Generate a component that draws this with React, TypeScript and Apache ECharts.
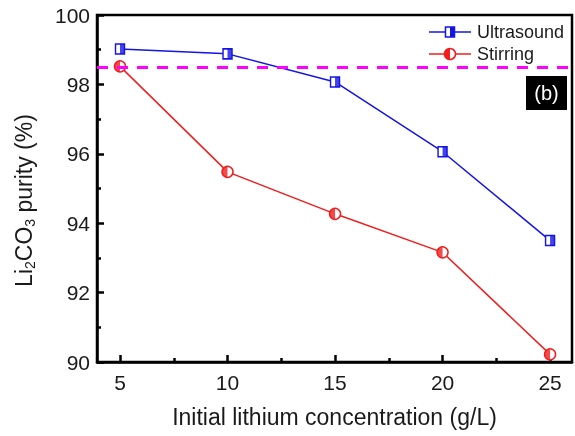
import React, { useEffect, useRef } from "react";
import * as echarts from "echarts";

// Initial lithium concentration (g/L)
const concentrations = [5, 10, 15, 20, 25];
// Li2CO3 purity (%) for each treatment
const ultrasound = [99.02, 98.88, 98.07, 96.06, 93.5];
const stirring = [98.52, 95.48, 94.27, 93.16, 90.22];
// Reference purity level (dashed line)
const purityStandard = 98.5;

const xMajorTicks = [5, 10, 15, 20, 25];
const xMinorTicks = [7.5, 12.5, 17.5, 22.5];

const BLUE = "#1414e6";
const RED = "#f01e1e";
const MAGENTA = "#ff00ff";
const FONT = "Liberation Sans, Arial, sans-serif";

const halfCircleLeft = "path://M1,0A1,1,0,0,0,1,2Z";

export default function App() {
  const ref = useRef<HTMLDivElement>(null);

  useEffect(() => {
    if (!ref.current) return;
    const chart = echarts.init(ref.current, null, { renderer: "svg" });

    const uData = concentrations.map((c, i) => [c, ultrasound[i]]);
    const sData = concentrations.map((c, i) => [c, stirring[i]]);

    const legendY1 = 32;
    const legendY2 = 54;
    const axisColor = "#000";

    chart.setOption({
      animation: false,
      grid: {
        left: 97,
        right: 3,
        top: 15,
        bottom: 74,
        show: true,
        borderColor: axisColor,
        borderWidth: 2.5,
      },
      xAxis: [
        {
          type: "value",
          min: 3.93,
          max: 26.02,
          name: "Initial lithium concentration (g/L)",
          nameLocation: "middle",
          nameGap: 43,
          nameTextStyle: { fontFamily: FONT, fontSize: 23, color: "#1a1a1a" },
          axisLine: { show: true, lineStyle: { color: axisColor, width: 2.5 } },
          axisTick: {
            show: true,
            inside: true,
            length: 7,
            customValues: xMajorTicks,
            lineStyle: { color: axisColor, width: 2.5 },
          },
          axisLabel: {
            customValues: xMajorTicks,
            fontFamily: FONT,
            fontSize: 21,
            color: "#1a1a1a",
            margin: 10,
          },
          splitLine: { show: false },
        },
        {
          type: "value",
          min: 3.93,
          max: 26.02,
          position: "bottom",
          axisLine: { show: false },
          axisTick: {
            show: true,
            inside: true,
            length: 4,
            customValues: xMinorTicks,
            lineStyle: { color: axisColor, width: 2.5 },
          },
          axisLabel: { show: false },
          splitLine: { show: false },
        },
      ],
      yAxis: {
        type: "value",
        min: 90,
        max: 100,
        interval: 2,
        name: "{n|Li}{s|2}{n|CO}{s|3}{n| purity (%)}",
        nameLocation: "middle",
        nameRotate: 90,
        nameGap: 60,
        nameTextStyle: {
          padding: [0, 24, 0, 0],
          rich: {
            n: { fontFamily: FONT, fontSize: 23, color: "#1a1a1a", lineHeight: 27 },
            s: {
              fontFamily: FONT,
              fontSize: 14,
              color: "#1a1a1a",
              lineHeight: 27,
              padding: [13, 0, 0, 0],
            },
          },
        },
        axisLine: { show: true, lineStyle: { color: axisColor, width: 2.5 } },
        axisTick: {
          show: true,
          inside: true,
          length: 7,
          lineStyle: { color: axisColor, width: 2.5 },
        },
        minorTick: {
          show: true,
          splitNumber: 2,
          length: 4,
          lineStyle: { color: axisColor, width: 2.5 },
        },
        axisLabel: { fontFamily: FONT, fontSize: 21, color: "#1a1a1a", margin: 7 },
        splitLine: { show: false },
      },
      series: [
        {
          name: "Ultrasound",
          type: "line",
          data: uData,
          symbol: "rect",
          symbolSize: [9, 10],
          lineStyle: { color: BLUE, width: 1.5 },
          itemStyle: { color: "#ffffff", borderColor: BLUE, borderWidth: 1.5 },
          z: 3,
          markLine: {
            silent: true,
            symbol: "none",
            label: { show: false },
            lineStyle: { color: MAGENTA, type: [11, 9], width: 3 },
            data: [{ yAxis: purityStandard }],
          },
        },
        {
          name: "Ultrasound",
          type: "scatter",
          data: uData,
          symbol: "rect",
          symbolSize: [4.5, 10],
          symbolOffset: [2.25, 0],
          itemStyle: { color: BLUE },
          z: 4,
        },
        {
          name: "Stirring",
          type: "line",
          data: sData,
          symbol: "circle",
          symbolSize: 11,
          lineStyle: { color: RED, width: 1.5 },
          itemStyle: { color: "#ffffff", borderColor: RED, borderWidth: 1.5 },
          z: 3,
        },
        {
          name: "Stirring",
          type: "scatter",
          data: sData,
          symbol: halfCircleLeft,
          symbolSize: [5.5, 11],
          symbolOffset: [-2.75, 0],
          itemStyle: { color: RED },
          z: 4,
        },
      ],
      graphic: [
        // legend: Ultrasound
        { type: "line", shape: { x1: 429, y1: legendY1, x2: 471, y2: legendY1 }, style: { stroke: BLUE, lineWidth: 1.5 }, z: 10 },
        { type: "rect", shape: { x: 445.5, y: legendY1 - 5, width: 9, height: 10 }, style: { fill: "#fff", stroke: BLUE, lineWidth: 1.5 }, z: 11 },
        { type: "rect", shape: { x: 450, y: legendY1 - 5, width: 4.5, height: 10 }, style: { fill: BLUE }, z: 12 },
        { type: "text", x: 477, y: legendY1, style: { text: "Ultrasound", fontFamily: FONT, fontSize: 18, fill: "#1a1a1a", verticalAlign: "middle" }, z: 12 },
        // legend: Stirring
        { type: "line", shape: { x1: 429, y1: legendY2, x2: 471, y2: legendY2 }, style: { stroke: RED, lineWidth: 1.5 }, z: 10 },
        { type: "circle", shape: { cx: 450, cy: legendY2, r: 5.5 }, style: { fill: "#fff", stroke: RED, lineWidth: 1.5 }, z: 11 },
        { type: "sector", shape: { cx: 450, cy: legendY2, r: 5.5, r0: 0, startAngle: Math.PI / 2, endAngle: (3 * Math.PI) / 2 }, style: { fill: RED }, z: 12 },
        { type: "text", x: 477, y: legendY2, style: { text: "Stirring", fontFamily: FONT, fontSize: 18, fill: "#1a1a1a", verticalAlign: "middle" }, z: 12 },
        // panel label
        { type: "rect", shape: { x: 526, y: 76, width: 41, height: 34 }, style: { fill: "#000" }, z: 10 },
        { type: "text", x: 546.5, y: 93, style: { text: "(b)", fontFamily: FONT, fontSize: 20, fill: "#fff", align: "center", verticalAlign: "middle" }, z: 11 },
      ],
    });

    return () => chart.dispose();
  }, []);

  return (
    <div
      ref={ref}
      style={{ position: "fixed", left: 0, top: 0, width: 575, height: 436 }}
    />
  );
}
